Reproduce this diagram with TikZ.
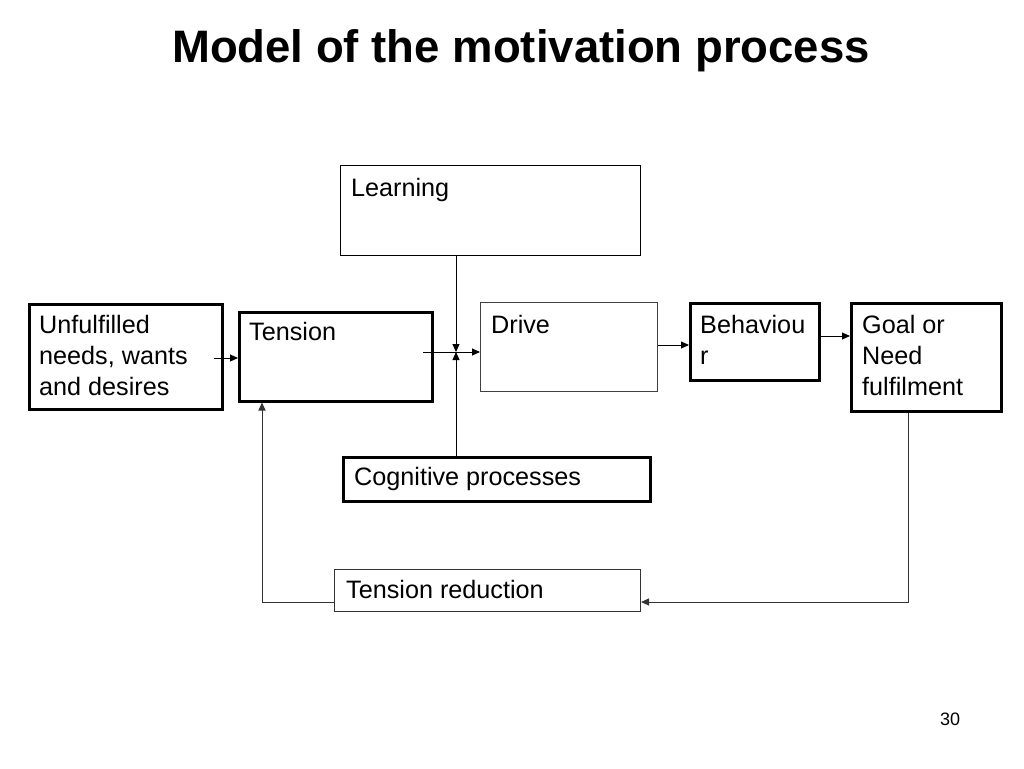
\documentclass[tikz,border=0pt]{standalone}
\usepackage{fontspec}
\setmainfont{Liberation Sans}
\usetikzlibrary{arrows.meta}
\begin{document}
\begin{tikzpicture}[x=1pt,y=-1pt,
  thinbox/.style={draw=black,line width=1pt,anchor=north west,inner sep=0pt},
  thickbox/.style={draw=black,line width=2.5pt,anchor=north west,inner sep=0pt},
  txt/.style={anchor=north west,inner sep=0pt,align=left,font=\fontsize{25.2}{31}\selectfont},
  conn/.style={line width=1pt,draw=black},
  arr/.style={conn,-{Triangle[length=8pt,width=7pt]}}
]
\fill[white] (0,0) rectangle (1024,768);
\useasboundingbox (0,0) rectangle (1024,768);
% title
\node[font=\fontsize{45.5}{50}\bfseries\selectfont,anchor=base] (title) at (521,63) {Model of the motivation process};
% boxes
\node[thinbox,minimum width=300,minimum height=90] (learn) at (340,165) {};
\node[thickbox,minimum width=193,minimum height=105] (unf) at (28,303) {};
\node[thickbox,minimum width=193,minimum height=89] (ten) at (238,311) {};
\node[thinbox,draw=black!75,minimum width=177,minimum height=89] (drive) at (480,302) {};
\node[thickbox,line width=3pt,minimum width=129,minimum height=77] (beh) at (689,302) {};
\node[thickbox,minimum width=150,minimum height=108] (goal) at (850,302) {};
\node[thickbox,minimum width=307,minimum height=44] (cog) at (342,456) {};
\node[thinbox,draw=black!80,minimum width=306,minimum height=42] (tred) at (334,569) {};
% texts
\node[txt] (tlearn) at (351,178) {Learning};
\node[txt] (tunf) at (39,315) {Unfulfilled\\needs, wants\\and desires};
\node[txt] (tten) at (249,322) {Tension};
\node[txt] (tdrive) at (491,315) {Drive};
\node[txt] (tbeh) at (700,315) {Behaviou\\r};
\node[txt] (tgoal) at (862,315) {Goal or\\Need\\fulfilment};
\node[txt] (tcog) at (354,467) {Cognitive processes};
\node[txt] (ttred) at (346,580) {Tension reduction};
\node[anchor=base,font=\fontsize{18}{20}\selectfont] (page) at (950,725) {30};
% junction
\coordinate (jn) at (456,352);
\coordinate (ts) at (423,352);
\coordinate (us) at (214,358);
\coordinate (g1) at (908,602);
\coordinate (t1) at (262,602);
% connectors
\draw[arr] (ts) -- (ts -| drive.west);
\draw[arr] (learn.south -| jn) -- (jn);
\draw[arr] (cog.north -| jn) -- (jn);
\draw[arr] (us) -- (us -| ten.west);
\draw[arr] (drive.east |- 0,345) -- (beh.west |- 0,345);
\draw[arr] (beh.east |- 0,336) -- (goal.west |- 0,336);
\draw[arr,draw=black!80] (goal.south -| g1) -- (g1) -- (tred.east |- g1);
\draw[arr,draw=black!80] (tred.west |- t1) -- (t1) -- (t1 |- ten.south);
\end{tikzpicture}
\end{document}
